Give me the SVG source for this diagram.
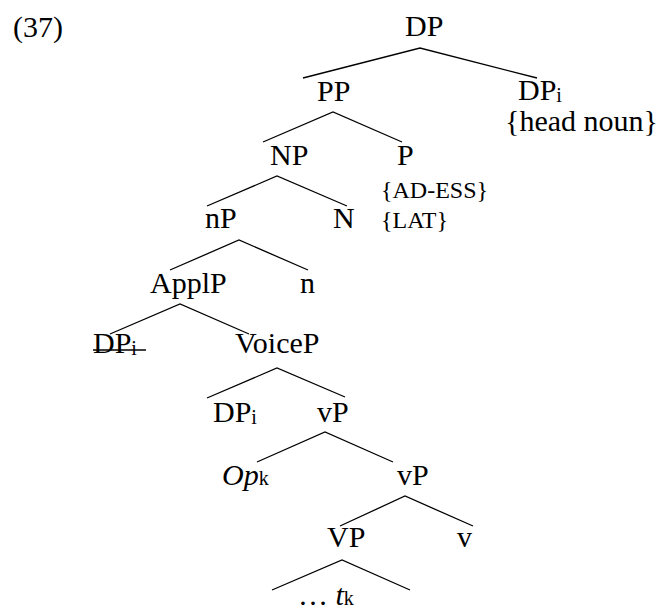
<svg xmlns="http://www.w3.org/2000/svg" width="663" height="613" viewBox="0 0 663 613">
  <style>
    text { font-family: "Liberation Serif", "Times New Roman", serif; font-size: 30px; fill: #000; }
    .small { font-size: 24px; }
    .sub { font-size: 20px; }
    .it { font-style: italic; }
    .edge { stroke: #000; stroke-width: 1.3; fill: none; stroke-linecap: butt; }
  </style>
  <rect width="663" height="613" fill="#fff"/>

  <!-- example number -->
  <text id="label" x="13" y="37">(37)</text>

  <!-- tree branches -->
  <g id="connectors" class="edge">
    <polyline points="303,78 420,48 537,78"/>
    <polyline points="263,142 333,112 402,142"/>
    <polyline points="207,206 277,176 347,206"/>
    <polyline points="170,270 239,240 308,270"/>
    <polyline points="110,334 180,304 249,334"/>
    <polyline points="207,398 277,368 345,397"/>
    <polyline points="257,462 325,432 393,462"/>
    <polyline points="340,526 405,496 473,526"/>
    <polyline points="272,590 342,560 410,590"/>
  </g>

  <g id="n-DP"><text x="405" y="36">DP</text></g>
  <g id="n-PP"><text x="317" y="101">PP</text></g>
  <g id="n-DPi-head">
    <text x="518" y="100">DP<tspan class="sub" dy="2">i</tspan></text>
    <text x="505" y="131">{head noun}</text>
  </g>
  <g id="n-NP"><text x="270" y="165">NP</text></g>
  <g id="n-P">
    <text x="397" y="165">P</text>
    <text class="small" x="381" y="198">{AD-ESS}</text>
    <text class="small" x="381" y="228">{LAT}</text>
  </g>
  <g id="n-nP"><text x="205" y="228">nP</text></g>
  <g id="n-N"><text x="333" y="228">N</text></g>
  <g id="n-ApplP"><text x="150" y="293">ApplP</text></g>
  <g id="n-n"><text x="300" y="293">n</text></g>
  <g id="n-DPi-struck">
    <text x="93" y="353">DP<tspan class="sub" dy="2">i</tspan></text>
    <line class="edge" x1="93" y1="350" x2="146" y2="350"/>
  </g>
  <g id="n-VoiceP"><text x="235" y="353">VoiceP</text></g>
  <g id="n-DPi"><text x="213" y="422">DP<tspan class="sub" dy="2">i</tspan></text></g>
  <g id="n-vP1"><text x="317" y="422">vP</text></g>
  <g id="n-Op"><text x="222" y="485"><tspan class="it">Op</tspan><tspan class="sub">k</tspan></text></g>
  <g id="n-vP2"><text x="397" y="485">vP</text></g>
  <g id="n-VP"><text x="327" y="547">VP</text></g>
  <g id="n-v"><text x="457" y="547">v</text></g>
  <g id="n-trace"><text x="298" y="605">… <tspan class="it">t</tspan><tspan class="sub">k</tspan></text></g>
</svg>
